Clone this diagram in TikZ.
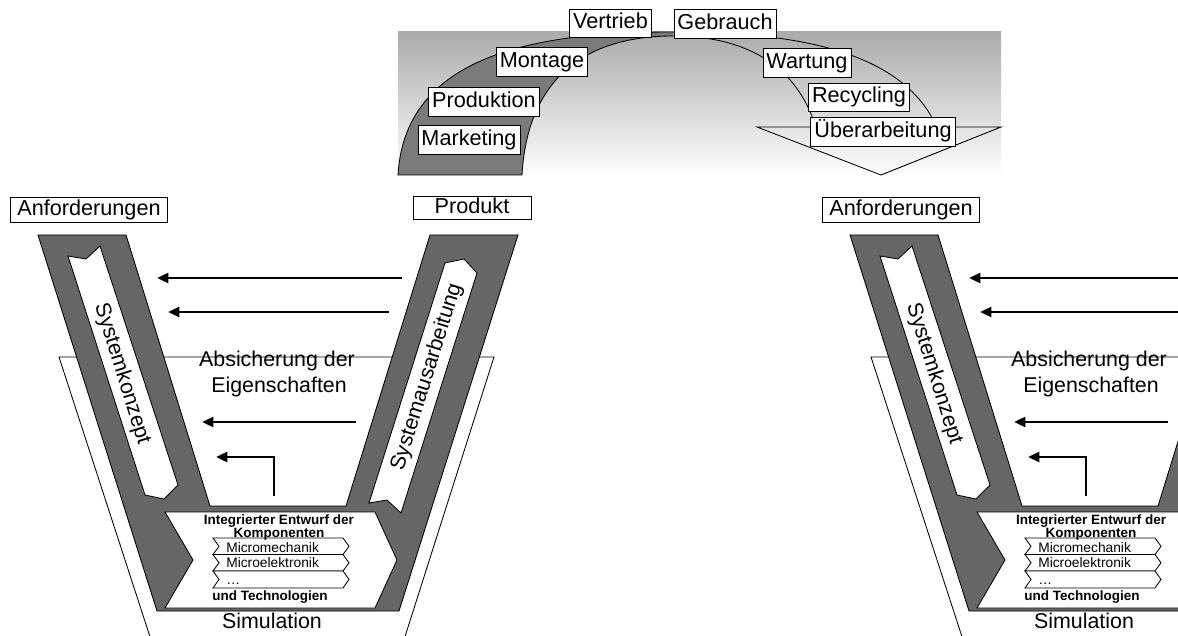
\documentclass[tikz,border=0pt]{standalone}
\usepackage{fontspec}
\setmainfont{Liberation Sans}
\usetikzlibrary{arrows.meta, positioning}

\begin{document}
\begin{tikzpicture}[
    x=0.025cm, y=-0.025cm,
    lbl/.style={rectangle, draw=black, line width=0.6pt, fill=white,
                font=\fontsize{15.4}{17}\selectfont, inner xsep=2.5pt, inner ysep=0pt,
                minimum height=20.5pt, text height=11.1pt, text depth=3.3pt},
    bigtxt/.style={font=\fontsize{15.2}{17}\selectfont},
    smalltxt/.style={font=\fontsize{9.8}{9}\selectfont, inner sep=0pt},
    smallbf/.style={font=\bfseries\fontsize{9.6}{9}\selectfont, inner sep=0pt},
    thinline/.style={draw=black, line width=0.6pt},
    vband/.style={thinline, fill=black!60},
    whitebox/.style={thinline, fill=white},
    arr/.style={-{Triangle[length=8pt, width=7pt]}, line width=1.8pt},
]
\useasboundingbox (0,0) rectangle (1178,636);
\clip (0,0) rectangle (1178,636);

% Life cycle arc
\shade[top color=black!33, bottom color=white] (398,32) rectangle (1001,177);
\fill[black!52] (398,175) .. controls (405,55) and (535,32) .. (673,32) -- (673,36)
    .. controls (595,36) and (528,70) .. (522,175) -- cycle;
\draw[thinline] (522,175) -- (398,175) .. controls (405,55) and (535,32) .. (673,32);
\draw[thinline] (522,175) .. controls (528,70) and (595,36) .. (673,36);
\begin{scope}
  \clip (673,0) rectangle (1010,127);
  \draw[thinline] (673,32) .. controls (811,32) and (941,55) .. (948,175);
  \draw[thinline] (673,36) .. controls (751,36) and (818,70) .. (824,175);
\end{scope}
\draw[thinline] (757,127) -- (1001,127) -- (881,175) -- cycle;

% Phases
\node[lbl] (vt) at (610.5,23.5) {Vertrieb};
\node[lbl] (gb) at (725,24) {Gebrauch};
\node[lbl] (mo) at (542,62) {Montage};
\node[lbl] (wa) at (807,63) {Wartung};
\node[lbl] (pr) at (484,102) {Produktion};
\node[lbl] (re) at (859,97.5) {Recycling};
\node[lbl] (ma) at (469,140) {Marketing};
\node[lbl] (ue) at (883,132) {Überarbeitung};

% V model (second copy cut off at the right)
\foreach \dx/\side in {0/a, 812/b} {
\begin{scope}[shift={(\dx,0)}]
  % Simulation
  \filldraw[whitebox] (59,357) -- (494,357) -- (402,646) -- (153,646) -- cycle;
  % Band
  \filldraw[vband] (38,235) -- (126,235) -- (210,506) -- (346,506) -- (430,235)
      -- (518,235) -- (399,611) -- (157,611) -- cycle;
  \filldraw[whitebox] (68,256) -- (86,259) -- (100,246) -- (178,485) -- (164,499) -- (145,495) -- cycle;
  \filldraw[whitebox] (445,263) -- (464,259) -- (477,273) -- (401,513) -- (387,500) -- (369,503) -- cycle;
  \node[bigtxt, rotate=-72.6] (sk\side) at (122,374) {Systemkonzept};
  \node[bigtxt, rotate=72.6] (sa\side) at (427,377) {Systemausarbeitung};

  % Components
  \filldraw[whitebox] (165,512) -- (375,512) -- (397,560) -- (375,608) -- (165,608) -- (193,560) -- cycle;
  \filldraw[whitebox] (213,538) -- (343,538) -- (349,546.3) -- (343,554.5) -- (213,554.5) -- (219,546.3) -- cycle;
  \filldraw[whitebox] (213,554.5) -- (343,554.5) -- (349,562.8) -- (343,571) -- (213,571) -- (219,562.8) -- cycle;
  \filldraw[whitebox] (213,571) -- (343,571) -- (349,579.5) -- (343,588) -- (213,588) -- (219,579.5) -- cycle;
  \node[smallbf, anchor=base] (ie\side) at (279,524.5) {Integrierter Entwurf der};
  \node[smallbf, below=0pt of ie\side] (ko\side) {Komponenten};
  \node[smalltxt, anchor=base west] (mm\side) at (226,552.5) {Micromechanik};
  \node[smalltxt, anchor=base west] (me\side) at (226,567) {Microelektronik};
  \node[smalltxt, anchor=base west] (md\side) at (226,584) {…};
  \node[smallbf, anchor=base] (ut\side) at (270,600.5) {und Technologien};
  \node[bigtxt, anchor=base] (si\side) at (272,628) {Simulation};

  % Verification
  \node[bigtxt, anchor=base] (ab\side) at (277,366.5) {Absicherung der};
  \node[bigtxt, anchor=base] (ei\side) at (279,392.5) {Eigenschaften};
  \coordinate (p1\side) at (402,278);
  \coordinate (q1\side) at (157,278);
  \coordinate (p2\side) at (389,312);
  \coordinate (q2\side) at (168,312);
  \coordinate (p3\side) at (356,422);
  \coordinate (q3\side) at (202,422);
  \coordinate (p4\side) at (274,496);
  \coordinate (q4\side) at (216,457);
  \draw[arr] (p1\side) -- (q1\side);
  \draw[arr] (p2\side) -- (q2\side);
  \draw[arr] (p3\side) -- (q3\side);
  \draw[arr] (p4\side) |- (q4\side);

  % Start and end
  \node[lbl, minimum width=111.6pt, minimum height=17.8pt] (an\side) at (89,210) {Anforderungen};
  \node[lbl, minimum width=83.9pt, minimum height=16.5pt] (pd\side) at (472,208) {Produkt};
\end{scope}
}

\end{tikzpicture}
\end{document}
